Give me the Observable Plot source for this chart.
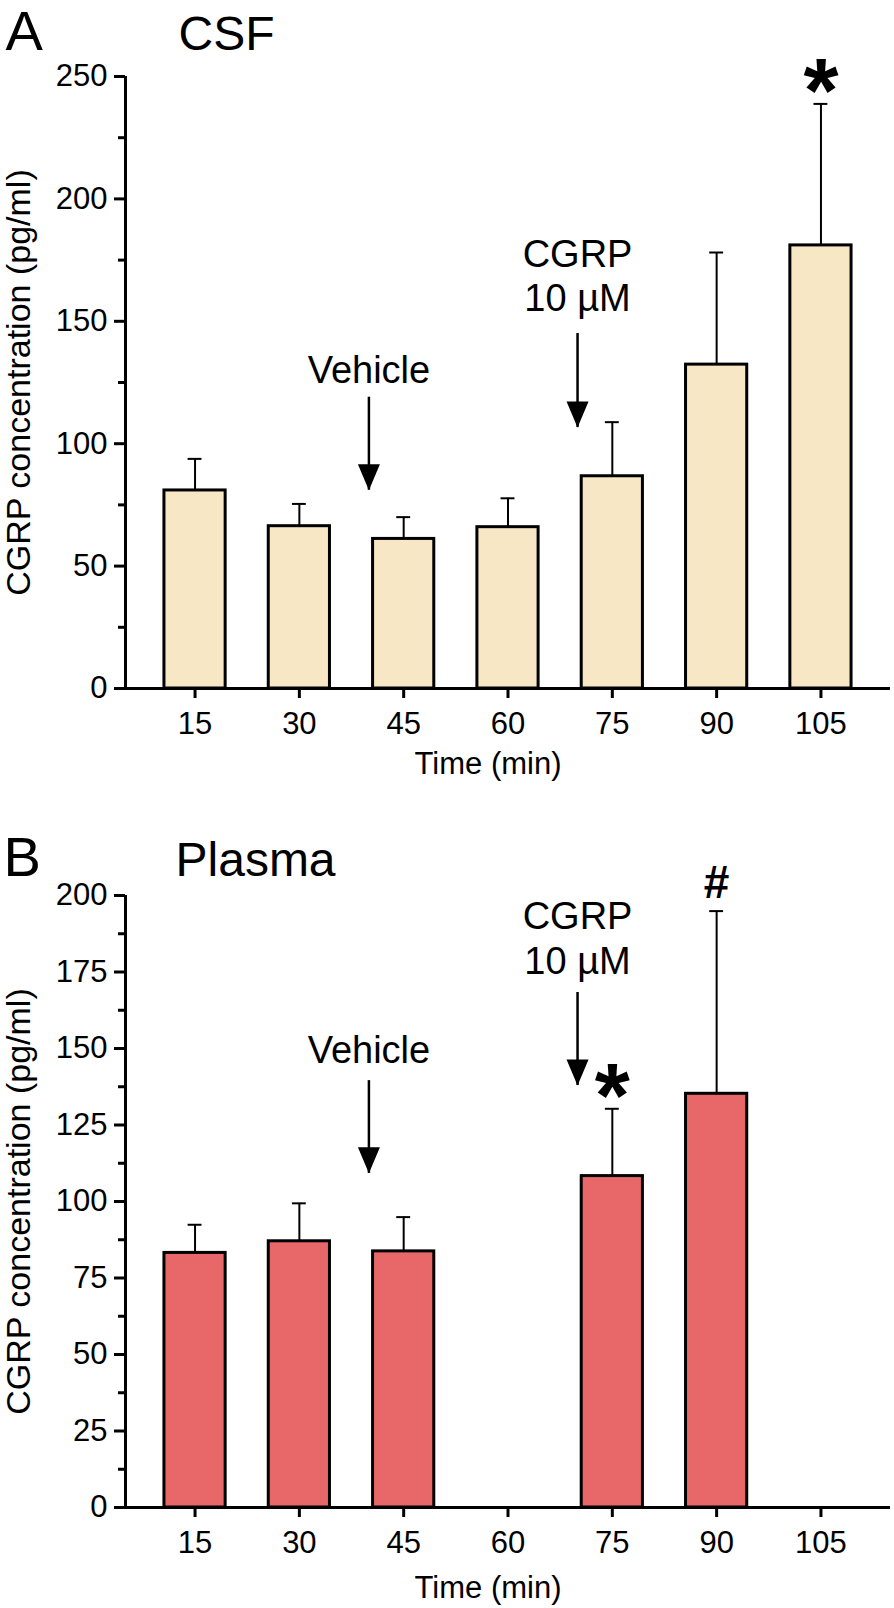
<!DOCTYPE html>
<html>
<head>
<meta charset="utf-8">
<script src="https://cdn.jsdelivr.net/npm/d3@7"></script>
<script src="https://cdn.jsdelivr.net/npm/@observablehq/plot@0.6"></script>
<style>
  html, body { margin: 0; padding: 0; background: #ffffff; }
  #chart { width: 894px; }
  #chart svg { display: block; }
</style>
</head>
<body>
<div id="chart"></div>
<script>
// ---------- data ----------
const times = [15, 30, 45, 60, 75, 90, 105];

// Panel A: CSF
const csfMean = [80.9, 66.3, 61.1, 65.9, 86.7, 132.3, 181.0];
const csfSem  = [12.9, 9.1, 8.9, 11.8, 22.1, 45.8, 57.8];
const csfSig  = ["", "", "", "", "", "", "*"];
const csfTicksMajor = [0, 50, 100, 150, 200, 250];
const csfTicksMinor = [25, 75, 125, 175, 225];
const csfArrowX = [40, 70];
const csfArrowFrom = [119, 145];
const csfArrowTo = [81, 106.6];
const csfNoteX = [40, 70, 70];
const csfNoteY = [125, 172, 154.4];
const csfNoteText = ["Vehicle", "CGRP", "10 µM"];

// Panel B: Plasma
const plasmaMean = [83.2, 87.0, 83.7, null, 108.3, 135.2, null];
const plasmaSem  = [9.2, 12.4, 11.2, null, 22.0, 59.7, null];
const plasmaSig  = ["", "", "", "", "*", "#", ""];
const plasmaTicksMajor = [0, 25, 50, 75, 100, 125, 150, 175, 200];
const plasmaTicksMinor = [12.5, 37.5, 62.5, 87.5, 112.5, 137.5, 162.5, 187.5];
const plasmaArrowX = [40, 70];
const plasmaArrowFrom = [139.5, 168.3];
const plasmaArrowTo = [109.2, 137.9];
const plasmaNoteX = [40, 70, 70];
const plasmaNoteY = [145.4, 189.2, 174.5];
const plasmaNoteText = ["Vehicle", "CGRP", "10 µM"];

// ---------- drawing ----------
const FONT = '"Liberation Sans", Arial, Helvetica, sans-serif';
const BAR_HALF = 4.4;   // half bar width in minutes
const CAP_HALF = 1.0;   // half error-cap width in minutes

const headSymbol = {
  draw(ctx) {
    ctx.moveTo(0, 0);
    ctx.lineTo(-11, -26);
    ctx.lineTo(11, -26);
    ctx.closePath();
  }
};

function panel(cfg) {
  const bars = times.map((t, i) => ({time: t, mean: cfg.mean[i], sem: cfg.sem[i], sig: cfg.sig[i]}))
                    .filter(d => d.mean != null);
  const arrows = cfg.arrowX.map((x, i) => ({x, from: cfg.arrowFrom[i], to: cfg.arrowTo[i]}));
  const notes = cfg.noteX.map((x, i) => ({x, y: cfg.noteY[i], text: cfg.noteText[i]}));
  const stars = bars.filter(d => d.sig === "*");
  const hashes = bars.filter(d => d.sig === "#");
  return Plot.plot({
    width: 894,
    height: cfg.height,
    marginLeft: 125,
    marginRight: 4,
    marginTop: cfg.marginTop,
    marginBottom: cfg.marginBottom,
    style: {fontFamily: FONT, fontSize: "31px", color: "black", background: "white", overflow: "visible"},
    x: {type: "linear", domain: [5, 115], label: null},
    y: {domain: [0, cfg.ymax], label: null},
    marks: [
      Plot.rectY(bars, {x1: d => d.time - BAR_HALF, x2: d => d.time + BAR_HALF, y: "mean",
                        fill: cfg.color, stroke: "black", strokeWidth: 3}),
      Plot.ruleX(bars, {x: "time", y1: "mean", y2: d => d.mean + d.sem, stroke: "black", strokeWidth: 2}),
      Plot.ruleY(bars, {y: d => d.mean + d.sem, x1: d => d.time - CAP_HALF, x2: d => d.time + CAP_HALF,
                        stroke: "black", strokeWidth: 2}),
      // axis lines
      Plot.ruleX([5], {y1: 0, y2: cfg.ymax, stroke: "black", strokeWidth: 3}),
      Plot.ruleY([0], {stroke: "black", strokeWidth: 3}),
      Plot.axisY({ticks: cfg.major, tickSize: 11, tickPadding: 7, strokeWidth: 3, fontSize: 31, label: null}),
      Plot.axisY({ticks: cfg.minor, tickSize: 7, tickFormat: () => "", strokeWidth: 3, label: null}),
      Plot.axisX({ticks: times, tickSize: 10, tickPadding: 13, strokeWidth: 3, fontSize: 31, label: null}),
      // annotation arrows
      Plot.ruleX(arrows, {x: "x", y1: "from", y2: "to", stroke: "black", strokeWidth: 2.5}),
      Plot.dot(arrows, {x: "x", y: "to", symbol: headSymbol, fill: "black", r: 10}),
      Plot.text(notes, {x: "x", y: "y", text: "text", fontSize: 38, lineAnchor: "bottom"}),
      // significance markers
      Plot.text(stars, {x: "time", y: d => d.mean + d.sem, text: () => "*", fontSize: 90,
                        fontWeight: "bold", lineAnchor: "bottom", dy: 18}),
      Plot.text(hashes, {x: "time", y: d => d.mean + d.sem, text: () => "#", fontSize: 46,
                         fontWeight: "bold", lineAnchor: "bottom", dy: -13}),
      // titles & axis labels
      Plot.text([cfg.letter], {frameAnchor: "top-left", textAnchor: "start", lineAnchor: "bottom",
                               dx: cfg.letterDx, dy: cfg.titleDy, fontSize: 56}),
      Plot.text([cfg.title], {frameAnchor: "top-left", textAnchor: "start", lineAnchor: "bottom",
                              dx: cfg.titleDx, dy: cfg.titleDy, fontSize: 48}),
      Plot.text(["CGRP concentration (pg/ml)"], {frameAnchor: "left", rotate: -90, textAnchor: "middle",
                                                 lineAnchor: "middle", dx: -106, fontSize: 34}),
      Plot.text(["Time (min)"], {frameAnchor: "bottom", textAnchor: "middle", lineAnchor: "bottom",
                                 dx: -20, dy: cfg.xlabelDy, fontSize: 31})
    ]
  });
}

const chart = document.getElementById("chart");
chart.appendChild(panel({
  mean: csfMean, sem: csfSem, sig: csfSig, color: "#f8e7c4", ymax: 250,
  major: csfTicksMajor, minor: csfTicksMinor,
  arrowX: csfArrowX, arrowFrom: csfArrowFrom, arrowTo: csfArrowTo,
  noteX: csfNoteX, noteY: csfNoteY, noteText: csfNoteText,
  height: 800, marginTop: 76, marginBottom: 112,
  letter: "A", title: "CSF", letterDx: -120, titleDx: 53, titleDy: -27, xlabelDy: 85
}));
chart.appendChild(panel({
  mean: plasmaMean, sem: plasmaSem, sig: plasmaSig, color: "#e8686a", ymax: 200,
  major: plasmaTicksMajor, minor: plasmaTicksMinor,
  arrowX: plasmaArrowX, arrowFrom: plasmaArrowFrom, arrowTo: plasmaArrowTo,
  noteX: plasmaNoteX, noteY: plasmaNoteY, noteText: plasmaNoteText,
  height: 808, marginTop: 95, marginBottom: 101,
  letter: "B", title: "Plasma", letterDx: -122, titleDx: 50, titleDy: -20, xlabelDy: 90
}));
</script>
</body>
</html>
